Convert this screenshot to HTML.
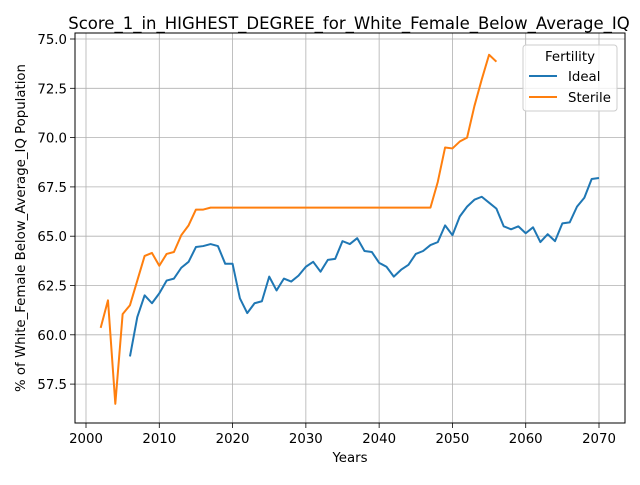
<!DOCTYPE html>
<html><head><meta charset="utf-8"><style>
body{margin:0;background:#fff;font-family:"Liberation Sans","DejaVu Sans",sans-serif}
</style></head><body>
<svg id="chart" width="640" height="480" xmlns="http://www.w3.org/2000/svg" font-family="DejaVu Sans, Liberation Sans, sans-serif"></svg>
<script>
const idealYears = [2006,2007,2008,2009,2010,2011,2012,2013,2014,2015,2016,2017,2018,2019,2020,2021,2022,2023,2024,2025,2026,2027,2028,2029,2030,2031,2032,2033,2034,2035,2036,2037,2038,2039,2040,2041,2042,2043,2044,2045,2046,2047,2048,2049,2050,2051,2052,2053,2054,2055,2056,2057,2058,2059,2060,2061,2062,2063,2064,2065,2066,2067,2068,2069,2070];
const idealValues = [58.9,60.9,62.0,61.6,62.1,62.75,62.85,63.4,63.7,64.45,64.5,64.6,64.5,63.6,63.6,61.85,61.1,61.6,61.7,62.95,62.25,62.85,62.7,63.0,63.45,63.7,63.2,63.8,63.85,64.75,64.6,64.9,64.25,64.2,63.65,63.45,62.95,63.3,63.55,64.1,64.25,64.55,64.7,65.55,65.05,66.0,66.5,66.85,67.0,66.7,66.4,65.5,65.35,65.5,65.15,65.45,64.7,65.1,64.75,65.65,65.7,66.5,66.95,67.9,67.95];
const sterileYears = [2002,2003,2004,2005,2006,2007,2008,2009,2010,2011,2012,2013,2014,2015,2016,2017,2018,2019,2020,2021,2022,2023,2024,2025,2026,2027,2028,2029,2030,2031,2032,2033,2034,2035,2036,2037,2038,2039,2040,2041,2042,2043,2044,2045,2046,2047,2048,2049,2050,2051,2052,2053,2054,2055,2056];
const sterileValues = [60.35,61.75,56.5,61.05,61.5,62.75,64.0,64.15,63.5,64.1,64.2,65.05,65.55,66.35,66.35,66.45,66.45,66.45,66.45,66.45,66.45,66.45,66.45,66.45,66.45,66.45,66.45,66.45,66.45,66.45,66.45,66.45,66.45,66.45,66.45,66.45,66.45,66.45,66.45,66.45,66.45,66.45,66.45,66.45,66.45,66.45,67.75,69.5,69.45,69.8,70.0,71.6,72.95,74.2,73.85];
const xTicks = [2000,2010,2020,2030,2040,2050,2060,2070];
const yTicks = [57.5,60.0,62.5,65.0,67.5,70.0,72.5,75.0];

const L=75,R=625,T=33,B=423;
const xs=v=>86+(v-2000)*(513/70);
const ys=v=>39+(75-v)*19.72;
const svg=document.getElementById('chart');
const NS='http://www.w3.org/2000/svg';
function mk(tag,attrs,parent){const e=document.createElementNS(NS,tag);for(const k in attrs)e.setAttribute(k,attrs[k]);(parent||svg).appendChild(e);return e;}

const grid=mk('g',{});


xTicks.forEach(t=>{
  const x=xs(t);
  mk('line',{x1:x,x2:x,y1:T,y2:B,stroke:'#b0b0b0','stroke-width':0.8},grid);
  mk('line',{x1:x,x2:x,y1:B,y2:B+5,stroke:'#000','stroke-width':0.8});
  const tx=mk('text',{x:x,y:B+20,'font-size':13.3,'text-anchor':'middle'});
  
  
  tx.textContent=t;
});
yTicks.forEach(t=>{
  const y=ys(t);
  mk('line',{x1:L,x2:R,y1:y,y2:y,stroke:'#b0b0b0','stroke-width':0.8},grid);
  mk('line',{x1:L-5,x2:L,y1:y,y2:y,stroke:'#000','stroke-width':0.8});
  const tx=mk('text',{x:L-8,y:y+5,'font-size':13.3,'text-anchor':'end'});
  
  
  tx.textContent=t.toFixed(1);
});
function line(xsA,vs,color,name){
  const p=mk('polyline',{points:xsA.map((x,i)=>xs(x)+','+ys(vs[i])).join(' '),fill:'none',stroke:color,'stroke-width':2,'stroke-linejoin':'round'});
  
  
}
line(idealYears,idealValues,'#1f77b4','ideal-line');
line(sterileYears,sterileValues,'#ff7f0e','sterile-line');
const fr=mk('rect',{x:L,y:T,width:R-L,height:B-T,fill:'none',stroke:'#000','stroke-width':1});


const ti=mk('text',{x:349,y:29,'font-size':16.5,'text-anchor':'middle'});


ti.textContent='Score_1_in_HIGHEST_DEGREE_for_White_Female_Below_Average_IQ';
const xl=mk('text',{x:350,y:462,'font-size':13.3,'text-anchor':'middle'});


xl.textContent='Years';
const yl=mk('text',{x:25,y:228,'font-size':13.3,'text-anchor':'middle',transform:'rotate(-90 25 228)'});


yl.textContent='% of White_Female Below_Average_IQ Population';
const lg=mk('g',{});


mk('rect',{x:523,y:45,width:94,height:66,rx:3,fill:'#fff','fill-opacity':0.8,stroke:'#ccc','stroke-width':1},lg);
const lt=mk('text',{x:570,y:61,'font-size':13.3,'text-anchor':'middle'},lg);


lt.textContent='Fertility';
[['Ideal','#1f77b4',76],['Sterile','#ff7f0e',97]].forEach(([n,c,y])=>{
  mk('line',{x1:529,x2:557,y1:y,y2:y,stroke:c,'stroke-width':2},lg);
  const t=mk('text',{x:568,y:y+5,'font-size':13.3},lg);
  
  
  t.textContent=n;
});
</script>
</body></html>
